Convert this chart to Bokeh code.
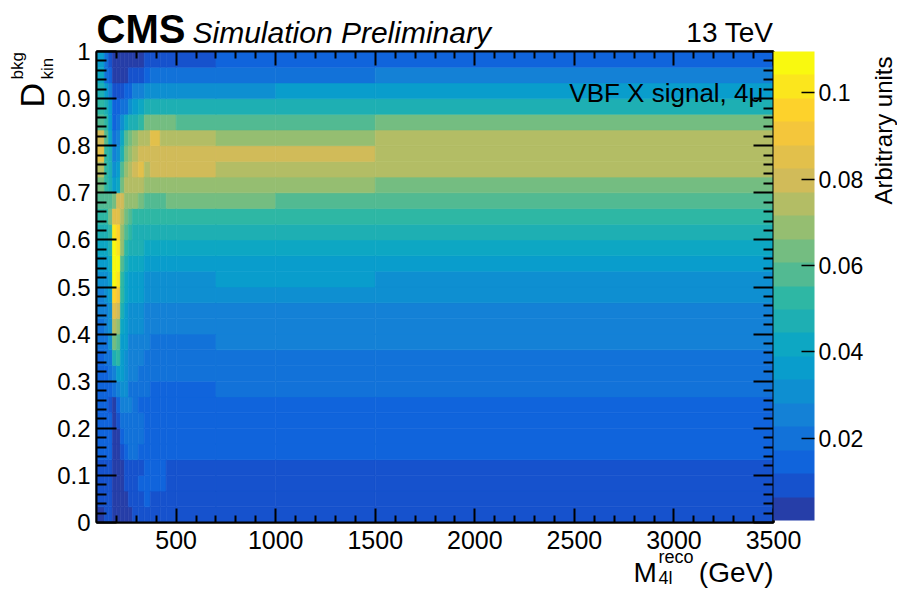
import math
from bokeh.plotting import figure
from bokeh.layouts import row, column
from bokeh.models import (Range1d, LinearAxis, FixedTicker, LinearColorMapper, ColorBar,
                          ColumnDataSource, Label, CustomJSTickFormatter)
from bokeh.embed import file_html
from bokeh.resources import INLINE

# ---------------- data ----------------
# m4l bin edges (GeV)
mass_edges = [100, 140, 160, 180, 200, 220, 240, 260, 280, 310, 340, 370, 420, 450, 500, 700, 1000, 1500, 3500]
# Dkin bins: 30 bins from 0 to 1
dkin_lo, dkin_hi, n_dkin = 0.0, 1.0, 30

# values per m4l bin, listed from Dkin = 0 (bottom) to Dkin = 1 (top)
m100_140 = [.004,.009,.009,.009,.015,.015,.015,.015,.015,.015, .015,.020,.020,.025,.025,.031,.036,.042,.047,.053, .058,.063,.074,.085,.080,.058,.053,.047,.042,.036]
m140_160 = [.009,.009,.009,.009,.015,.015,.015,.015,.015,.015, .020,.020,.025,.025,.031,.031,.036,.042,.047,.053, .058,.053,.053,.053,.058,.053,.047,.036,.020,.020]
m160_180 = [.009,.009,.009,.009,.015,.015,.015,.009,.015,.020, .020,.031,.031,.031,.036,.036,.042,.047,.053,.063, .058,.047,.047,.047,.042,.036,.036,.025,.015,.009]
m180_200 = [.004,.004,.004,.004,.004,.004,.004,.004,.020,.025, .047,.063,.074,.085,.096,.107,.107,.107,.102,.085, .063,.036,.031,.025,.020,.015,.015,.009,.004,.004]
m200_220 = [.004,.004,.004,.004,.004,.004,.009,.015,.025,.036, .053,.058,.069,.080,.091,.102,.107,.102,.096,.085, .080,.042,.036,.031,.025,.020,.015,.009,.004,.004]
m220_240 = [.004,.004,.004,.004,.009,.015,.020,.025,.031,.036, .036,.036,.042,.047,.053,.053,.058,.069,.069,.074, .080,.063,.058,.047,.042,.031,.020,.009,.004,.004]
m240_260 = [.004,.004,.009,.009,.015,.020,.020,.025,.031,.031, .031,.036,.036,.036,.042,.042,.047,.053,.058,.063, .069,.074,.069,.063,.058,.042,.020,.015,.004,.004]
m260_280 = [.004,.009,.009,.009,.020,.020,.020,.025,.020,.025, .025,.025,.031,.031,.036,.036,.042,.047,.053,.058, .069,.074,.074,.069,.063,.047,.031,.015,.009,.004]
m280_310 = [.009,.009,.009,.009,.020,.020,.020,.020,.020,.025, .025,.025,.031,.031,.036,.036,.042,.047,.047,.053, .069,.074,.080,.074,.069,.047,.036,.025,.009,.004]
m310_340 = [.009,.009,.015,.009,.015,.020,.020,.015,.020,.020, .025,.025,.031,.031,.036,.036,.042,.047,.047,.053, .063,.074,.085,.080,.074,.053,.042,.025,.009,.004]
m340_370 = [.009,.015,.015,.015,.015,.015,.015,.015,.020,.020, .020,.025,.025,.025,.031,.031,.036,.042,.047,.053, .058,.069,.074,.080,.074,.063,.047,.031,.015,.009]
m370_420 = [.009,.009,.015,.015,.015,.015,.015,.015,.015,.020, .020,.020,.025,.025,.031,.031,.036,.042,.047,.053, .058,.069,.080,.080,.085,.063,.047,.031,.020,.009]
m420_450 = [.009,.009,.015,.015,.015,.015,.015,.015,.015,.020, .020,.020,.025,.025,.031,.031,.036,.042,.047,.053, .058,.069,.080,.080,.074,.063,.047,.031,.020,.009]
m450_500 = [.009,.009,.009,.009,.015,.015,.015,.015,.015,.020, .020,.020,.025,.025,.031,.031,.036,.042,.047,.053, .063,.069,.080,.080,.074,.063,.047,.031,.020,.009]
m500_700 = [.009,.009,.009,.009,.015,.015,.015,.015,.015,.020, .020,.020,.025,.025,.031,.031,.036,.042,.047,.053, .063,.069,.080,.080,.074,.058,.047,.031,.020,.009]
m700_1000 = [.009,.009,.009,.009,.015,.015,.015,.015,.020,.020, .020,.025,.025,.025,.031,.036,.036,.042,.047,.053, .063,.069,.074,.080,.069,.058,.047,.031,.020,.015]
m1000_1500 = [.009,.009,.009,.009,.015,.015,.015,.015,.020,.020, .020,.025,.025,.025,.031,.036,.036,.042,.047,.053, .058,.069,.074,.080,.069,.058,.047,.036,.020,.015]
m1500_3500 = [.009,.009,.009,.009,.015,.015,.015,.015,.020,.020, .020,.025,.025,.025,.031,.031,.036,.042,.047,.053, .058,.063,.074,.074,.074,.063,.047,.036,.025,.015]

columns = [m100_140, m140_160, m160_180, m180_200, m200_220, m220_240, m240_260, m260_280,
           m280_310, m310_340, m340_370, m370_420, m420_450, m450_500, m500_700, m700_1000,
           m1000_1500, m1500_3500]

z_min, z_max, n_levels = 0.0009, 0.1096, 20

x_major = [500, 1000, 1500, 2000, 2500, 3000, 3500]
x_labels = ["500", "1000", "1500", "2000", "2500", "3000", "3500"]
y_major = [0.0, 0.1, 0.2, 0.3, 0.4, 0.5, 0.6, 0.7, 0.8, 0.9, 1.0]
y_labels = ["0", "0.1", "0.2", "0.3", "0.4", "0.5", "0.6", "0.7", "0.8", "0.9", "1"]
z_major = [0.02, 0.04, 0.06, 0.08, 0.1]

# ---------------- palette (ROOT kBird, 20 contour levels) ----------------
stops = [0.0000, 0.1250, 0.2500, 0.3750, 0.5000, 0.6250, 0.7500, 0.8750, 1.0000]
red   = [0.2082, 0.0592, 0.0780, 0.0232, 0.1802, 0.5301, 0.8186, 0.9956, 0.9764]
green = [0.1664, 0.3599, 0.5041, 0.6419, 0.7178, 0.7492, 0.7328, 0.7862, 0.9832]
blue  = [0.5293, 0.8684, 0.8385, 0.7914, 0.6425, 0.4662, 0.3499, 0.1968, 0.0539]

def gradient(ncol=255):
    cols = []
    for g in range(1, len(stops)):
        n = int(math.floor(ncol * stops[g]) - math.floor(ncol * stops[g - 1]))
        for c in range(n):
            r = red[g - 1] + c * (red[g] - red[g - 1]) / n
            gg = green[g - 1] + c * (green[g] - green[g - 1]) / n
            b = blue[g - 1] + c * (blue[g] - blue[g - 1]) / n
            cols.append("#%02x%02x%02x" % (int(r * 255 + .5), int(gg * 255 + .5), int(b * 255 + .5)))
    return cols

grad = gradient()
palette = [grad[int((i + 0.99) * len(grad) / n_levels)] for i in range(n_levels)]
mapper = LinearColorMapper(palette=palette, low=z_min, high=z_max)

# ---------------- geometry (page pixels) ----------------
FONT = "Liberation Sans"
FL, FR, FT, FB = 96, 773, 51, 522          # plot frame edges
PPG = (FR - FL) / 3400.0                   # pixels per GeV
PPD = (FB - FT) / 1.0                      # pixels per unit of D
MID = 0.35                                 # baseline -> text middle, in em

def gx(px):   # page x -> GeV
    return 100 + (px - FL) / PPG

def gy(py):   # page y -> D
    return (FB - py) / PPD

def strip(w, h, xr, yr):
    f = figure(width=w, height=h, x_range=xr, y_range=yr, x_axis_type=None, y_axis_type=None,
               output_backend="svg", toolbar_location=None,
               min_border_left=0, min_border_right=0, min_border_top=0, min_border_bottom=0)
    f.title.visible = False
    f.outline_line_color = None
    f.background_fill_color = "white"
    f.border_fill_color = "white"
    return f

def lab(fig, x, y, text, size, style="normal", align="left", angle=0):
    fig.add_layout(Label(x=x, y=y, text=text, text_font=FONT, text_font_size="%dpx" % size,
                         text_font_style=style, text_align=align, text_baseline="middle",
                         text_color="black", angle=angle))

# ---------------- main plot ----------------
dk = (dkin_hi - dkin_lo) / n_dkin
L, R, B, T, V = [], [], [], [], []
for i, col in enumerate(columns):
    for j, v in enumerate(col):
        L.append(mass_edges[i]); R.append(mass_edges[i + 1])
        B.append(dkin_lo + j * dk); T.append(dkin_lo + (j + 1) * dk)
        V.append(v)
src = ColumnDataSource(dict(left=L, right=R, bottom=B, top=T, value=V))

MAIN_X0, MAIN_Y0, MAIN_X1, MAIN_Y1 = 94, 49, 869, 524
main = figure(width=MAIN_X1 - MAIN_X0, height=MAIN_Y1 - MAIN_Y0,
              x_range=Range1d(100, 3500), y_range=Range1d(0, 1),
              output_backend="svg", toolbar_location=None,
              min_border_left=FL - MAIN_X0, min_border_right=MAIN_X1 - FR,
              min_border_top=FT - MAIN_Y0, min_border_bottom=MAIN_Y1 - FB)
main.title.visible = False
main.xgrid.visible = False
main.ygrid.visible = False
main.outline_line_color = "black"
main.outline_line_width = 2

main.quad(left="left", right="right", bottom="bottom", top="top", source=src,
          fill_color={"field": "value", "transform": mapper},
          line_color={"field": "value", "transform": mapper}, line_width=0.6)

x_minor = [m for m in range(200, 3500, 100) if m % 500 != 0]
y_minor = [k / 50 for k in range(1, 50) if k % 5 != 0]
xt = FixedTicker(ticks=x_major, minor_ticks=x_minor)
yt = FixedTicker(ticks=y_major, minor_ticks=y_minor)

def style_axis(ax, tick_in, minor_in, standoff=0):
    ax.major_tick_in = tick_in
    ax.major_tick_out = 0
    ax.minor_tick_in = minor_in
    ax.minor_tick_out = 0
    ax.axis_line_width = 2
    ax.major_tick_line_width = 2
    ax.minor_tick_line_width = 2
    ax.major_label_text_font_size = "0px"
    ax.major_label_text_color = None
    ax.major_label_standoff = standoff

main.xaxis[0].ticker = xt
style_axis(main.xaxis[0], 14, 7)
main.yaxis[0].ticker = yt
style_axis(main.yaxis[0], 20, 10)
top_ax = LinearAxis(ticker=xt)
style_axis(top_ax, 14, 7)
main.add_layout(top_ax, "above")
right_ax = LinearAxis(ticker=yt)
style_axis(right_ax, 20, 10, standoff=2)
main.add_layout(right_ax, "right")

cb = ColorBar(color_mapper=mapper, ticker=FixedTicker(ticks=z_major),
              formatter=CustomJSTickFormatter(code="return parseFloat(tick.toFixed(2)).toString();"),
              width=41, height=469, padding=0, margin=2,
              major_tick_in=13, major_tick_out=0, minor_tick_in=0, minor_tick_out=0,
              major_tick_line_color="black", major_tick_line_width=1.5,
              label_standoff=4, major_label_text_font=FONT, major_label_text_font_size="23px",
              major_label_text_color="black",
              bar_line_color=None, border_line_color=None, background_fill_color=None)
main.add_layout(cb, "right")

lab(main, gx(763), gy(102 - MID * 26), "VBF X signal, 4\u03bc", 26, align="right")

# ---------------- strips around the plot ----------------
W, H = 897, 589
# left strip: y tick labels and y title, y scale identical to the plot's
left = strip(MAIN_X0, H, Range1d(0, MAIN_X0), Range1d(gy(H), gy(0)))
for v, t in zip(y_major, y_labels):
    lab(left, 90, v, t, 24, align="right")
lab(left, 43 - MID * 34, gy(107), "D", 34, angle=math.pi / 2)
lab(left, 23 - MID * 17, gy(79), "bkg", 17, angle=math.pi / 2)
lab(left, 53 - MID * 17, gy(79), "kin", 17, angle=math.pi / 2)

# top strip: header
top = strip(W - MAIN_X0, MAIN_Y0, Range1d(MAIN_X0, W), Range1d(MAIN_Y0, 0))
lab(top, FL, 42 - MID * 40, "CMS", 40, "bold")
lab(top, 192, 42 - MID * 30, "Simulation Preliminary", 30, "italic")
lab(top, FR, 42 - MID * 28, "13 TeV", 28, align="right")

# right strip: colour-bar title
right = strip(W - MAIN_X1, MAIN_Y1 - MAIN_Y0, Range1d(MAIN_X1, W), Range1d(MAIN_Y1, MAIN_Y0))
lab(right, 891 - MID * 24, 54, "Arbitrary units", 24, align="right", angle=math.pi / 2)

# bottom strip: x tick labels and x title, x scale identical to the plot's
bottom = strip(W - MAIN_X0, H - MAIN_Y1, Range1d(gx(MAIN_X0), gx(W)), Range1d(H, MAIN_Y1))
for v, t in zip(x_major, x_labels):
    lab(bottom, v, 539, t, 25, align="center")
lab(bottom, gx(633), 582 - MID * 28, "M", 28)
lab(bottom, gx(658), 563 - MID * 18, "reco", 18)
lab(bottom, gx(658), 584 - MID * 18, "4l", 18)
lab(bottom, 3500, 582 - MID * 28, "(GeV)", 28, align="right")

layout = row(left, column(top, row(main, right), bottom))

open("out.html", "w").write(file_html(layout, INLINE))
